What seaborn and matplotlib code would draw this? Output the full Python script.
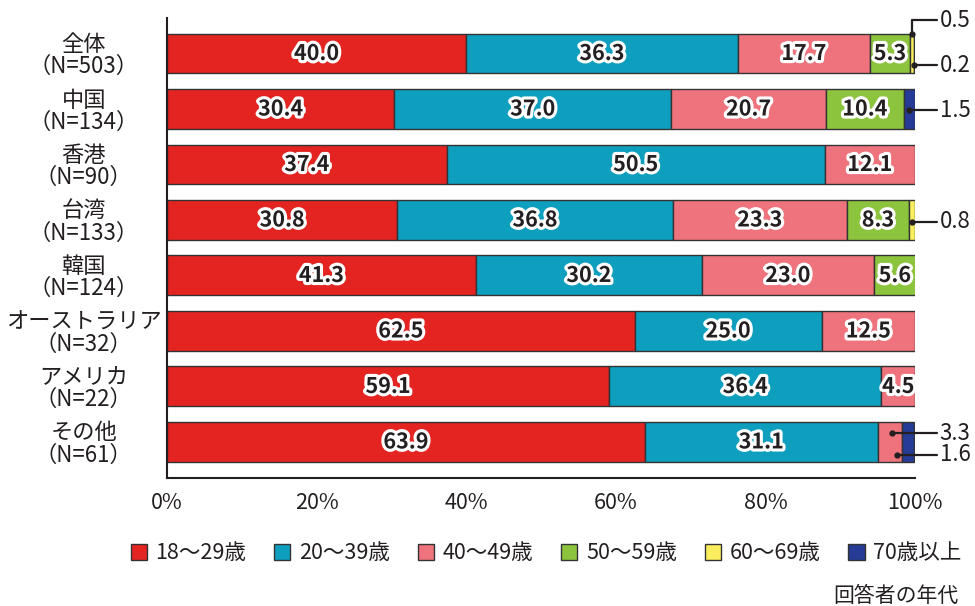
import numpy as np
import pandas as pd
import matplotlib
matplotlib.use("Agg")
import matplotlib.pyplot as plt
import matplotlib.patheffects as pe
import seaborn as sns

# ---- data ----
regions = ["全体", "中国", "香港", "台湾", "韓国", "オーストラリア", "アメリカ", "その他"]
counts = [503, 134, 90, 133, 124, 32, 22, 61]

age_groups = ["18～29歳", "20～39歳", "40～49歳", "50～59歳", "60～69歳", "70歳以上"]
s18_29 = [40.0, 30.4, 37.4, 30.8, 41.3, 62.5, 59.1, 63.9]
s20_39 = [36.3, 37.0, 50.5, 36.8, 30.2, 25.0, 36.4, 31.1]
s40_49 = [17.7, 20.7, 12.1, 23.3, 23.0, 12.5, 4.5, 3.3]
s50_59 = [5.3, 10.4, 0.0, 8.3, 5.6, 0.0, 0.0, 0.0]
s60_69 = [0.5, 0.0, 0.0, 0.8, 0.0, 0.0, 0.0, 0.0]
s70_up = [0.2, 1.5, 0.0, 0.0, 0.0, 0.0, 0.0, 1.6]
series = [s18_29, s20_39, s40_49, s50_59, s60_69, s70_up]

colors = ["#E42421", "#0E9FBF", "#EF737C", "#8DC43E", "#FAEE5E", "#253B95"]
ink = "#231F20"

# values shown outside the bars with leader lines:
# (row, series index, dot dx, dot dy, text dy)
callouts = [
    (0, 4, 0.0, -0.36, -0.60),
    (0, 5, 0.0, 0.21, 0.21),
    (1, 5, 0.0, 0.02, 0.02),
    (3, 4, 0.0, 0.03, 0.03),
    (7, 2, 0.25, -0.16, -0.16),
    (7, 2, 0.95, 0.23, 0.23),
]
callout_values = [0.5, 0.2, 1.5, 0.8, 3.3, 1.6]

ylabels = [f"{r}\n（N={n}）" for r, n in zip(regions, counts)]

sns.set_theme(style="white")
plt.rcParams["font.family"] = ["Noto Sans CJK JP", "DejaVu Sans"]

fig = plt.figure(figsize=(9.75, 6.06), dpi=100)
ax = fig.add_axes([0.1713, 0.2112, 0.7672, 0.7591])

vals = np.array(series)
lefts = np.vstack([np.zeros(len(regions)), np.cumsum(vals, axis=0)[:-1]])

for k, (name, col) in enumerate(zip(age_groups, colors)):
    mask = vals[k] > 0
    df = pd.DataFrame({"region": np.array(ylabels)[mask], "pct": vals[k][mask]})
    sns.barplot(data=df, x="pct", y="region", order=ylabels, orient="h",
                color=col, left=lefts[k][mask], width=0.72,
                edgecolor="#333333", linewidth=1.0, saturation=1,
                label=name, ax=ax, zorder=2)

# value labels inside the bars
outline = [pe.withStroke(linewidth=4.5, foreground="white")]
for k in range(len(series)):
    for i in range(len(regions)):
        v = vals[k][i]
        if v >= 4:
            ax.text(lefts[k][i] + v / 2, i, f"{v:.1f}", ha="center", va="center",
                    fontsize=15.5, fontweight="bold", color=ink,
                    path_effects=outline, zorder=5)

# leader lines for the thin segments
x_end, x_txt = 102.9, 103.3
for (row, k, dx, dy, tdy), v in zip(callouts, callout_values):
    x0 = lefts[k][row] + vals[k][row] / 2 + dx
    y0 = row + dy
    yt = row + tdy
    xs, ys = ([x0, x0, x_end], [y0, yt, yt]) if tdy != dy else ([x0, x_end], [y0, y0])
    ax.plot(xs, ys, color=ink, lw=1.6, clip_on=False, zorder=6)
    ax.plot([x0], [y0], "o", color=ink, ms=3.5, clip_on=False, zorder=7)
    ax.text(x_txt, yt, f"{v:.1f}", ha="left", va="center", fontsize=16,
            color=ink, clip_on=False)

ax.set_xlim(0, 100)
ax.set_ylim(7.65, -0.64)
ax.set_xticks(np.arange(0, 101, 20))
ax.set_xticklabels([f"{t}%" for t in range(0, 101, 20)])
ax.set_xlabel("")
ax.set_ylabel("")
for s in ["top", "right"]:
    ax.spines[s].set_visible(False)
for s in ["left", "bottom"]:
    ax.spines[s].set_color(ink)
    ax.spines[s].set_linewidth(1.5)
ax.tick_params(axis="x", direction="in", length=7, width=1.2, color=ink,
               labelsize=15.5, labelcolor=ink, pad=10)
ax.tick_params(axis="y", length=0, labelsize=16, labelcolor=ink, pad=60)
for lbl in ax.get_yticklabels():
    lbl.set_horizontalalignment("center")
    lbl.set_multialignment("center")
    lbl.set_linespacing(0.95)

handles, labels = ax.get_legend_handles_labels()
if ax.get_legend() is not None:
    ax.get_legend().remove()
fig.legend(handles, labels, loc="center", bbox_to_anchor=(0.56, 0.087), ncol=6,
           frameon=False, fontsize=15.5, handlelength=0.75, handleheight=0.75,
           handletextpad=0.4, columnspacing=1.3, labelcolor=ink)

fig.text(0.983, 0.016, "回答者の年代", ha="right", va="center", fontsize=15, color=ink)

fig.savefig("out.png", dpi=100)
